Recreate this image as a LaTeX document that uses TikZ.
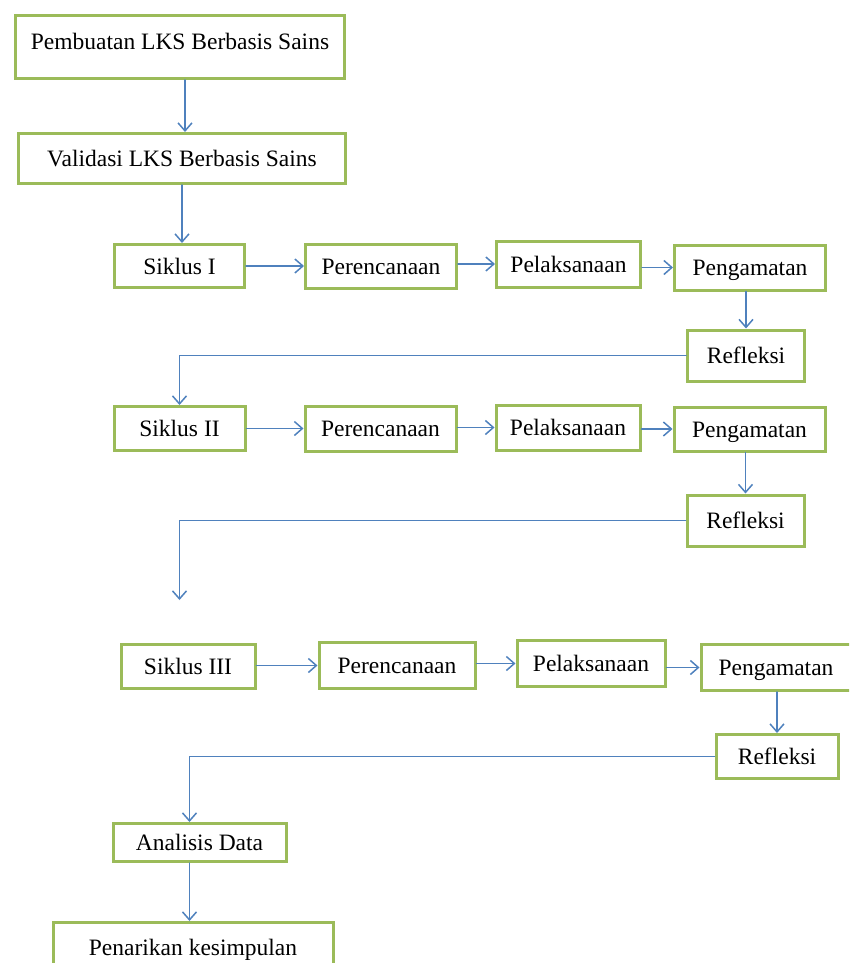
\documentclass[tikz,border=0pt]{standalone}
\usepackage{fontspec}
\setmainfont{Liberation Serif}
\usetikzlibrary{arrows.meta,positioning}
\definecolor{daun}{HTML}{9BBB59}
\definecolor{biru}{HTML}{4F81BD}

\begin{document}
\begin{tikzpicture}[
          >={Straight Barb[length=8pt,width=14pt]},line cap=round,
          box/.style={draw=daun,line width=3pt,fill=white,align=center,
                      font=\fontsize{23.5}{27}\selectfont,inner sep=0pt,
                      text height=16pt,text depth=0pt},
          sz/.style 2 args={minimum width=#1pt,minimum height=#2pt},
          arr/.style={->,biru,line width=1.5pt}]
        \useasboundingbox (0pt,0pt) rectangle (849pt,-963pt);
        \clip (0pt,0pt) rectangle (849pt,-963pt);
        \node[box,sz={329}{63},text depth=11pt] (pemb) at (180pt,-47pt)
          {Pembuatan LKS Berbasis Sains};
        \node[box,sz={327}{50},below=52pt of pemb,xshift=2pt] (vali)
          {Validasi LKS Berbasis Sains};
        \node[box,sz={130}{43},below=58pt of vali,xshift=-2.5pt] (sik1) {Siklus I};
        \node[box,sz={151}{44},right=58pt of sik1] (per1) {Perencanaan};
        \node[box,sz={144}{46},right=37pt of per1,yshift=2pt] (pel1) {Pelaksanaan};
        \node[box,sz={151}{45},right=31pt of pel1,yshift=-3.5pt] (pen1) {Pengamatan};
        \node[box,sz={117}{51},below=37pt of pen1,xshift=-4pt] (ref1) {Refleksi};
        \node[box,sz={131}{44},below=116pt of sik1] (sik2) {Siklus II};
        \node[box,sz={151}{45},right=57pt of sik2] (per2) {Perencanaan};
        \node[box,sz={144}{45},right=37pt of per2,yshift=1pt] (pel2) {Pelaksanaan};
        \node[box,sz={151}{44},right=31pt of pel2,yshift=-1.5pt] (pen2) {Pengamatan};
        \node[box,sz={117}{51},below=41pt of pen2,xshift=-4pt] (ref2) {Refleksi};
        \coordinate[below=148pt of sik2.south] (jatuh);
        \node[box,sz={134}{44},below=191pt of sik2,xshift=8.5pt] (sik3) {Siklus III};
        \node[box,sz={156}{46},right=61pt of sik3,yshift=1pt] (per3) {Perencanaan};
        \node[box,sz={148}{46},right=39pt of per3,yshift=2pt] (pel3) {Pelaksanaan};
        \node[box,sz={150}{46},right=33pt of pel3,yshift=-4pt] (pen3) {Pengamatan};
        \node[box,sz={122}{44},below=41pt of pen3,xshift=1pt] (ref3) {Refleksi};
        \node[box,sz={173}{38},below=132pt of sik3,xshift=11.5pt] (ana) {Analisis Data};
        \node[box,sz={280}{50},below=58pt of ana,xshift=-6.5pt] (pena) {Penarikan kesimpulan};
        \draw[arr] ([xshift=5pt]pemb.south) -- ([xshift=5pt]pemb.south |- vali.north);
        \draw[arr] (vali.south) -- (vali.south |- sik1.north);
        \draw[arr] (per1.west -| sik1.east) -- (per1.west);
        \draw[arr] (pel1.west -| per1.east) -- (pel1.west);
        \draw[arr] (pen1.west -| pel1.east) -- (pen1.west);
        \draw[arr] (ref1.north |- pen1.south) -- (ref1.north);
        \draw[arr] (ref1.west) -| (sik2.north);
        \draw[arr] (per2.west -| sik2.east) -- (per2.west);
        \draw[arr] (pel2.west -| per2.east) -- (pel2.west);
        \draw[arr] (pen2.west -| pel2.east) -- (pen2.west);
        \draw[arr] (ref2.north |- pen2.south) -- (ref2.north);
        \draw[arr] (ref2.west) -| (jatuh);
        \draw[arr] (per3.west -| sik3.east) -- (per3.west);
        \draw[arr] (pel3.west -| per3.east) -- (pel3.west);
        \draw[arr] (pen3.west -| pel3.east) -- (pen3.west);
        \draw[arr] (ref3.north |- pen3.south) -- (ref3.north);
        \draw[arr] (ref3.west) -| ([xshift=-10pt]ana.north);
        \draw[arr] ([xshift=-10pt]ana.south) -- ([xshift=-10pt]ana.south |- pena.north);
      \end{tikzpicture}
\end{document}
